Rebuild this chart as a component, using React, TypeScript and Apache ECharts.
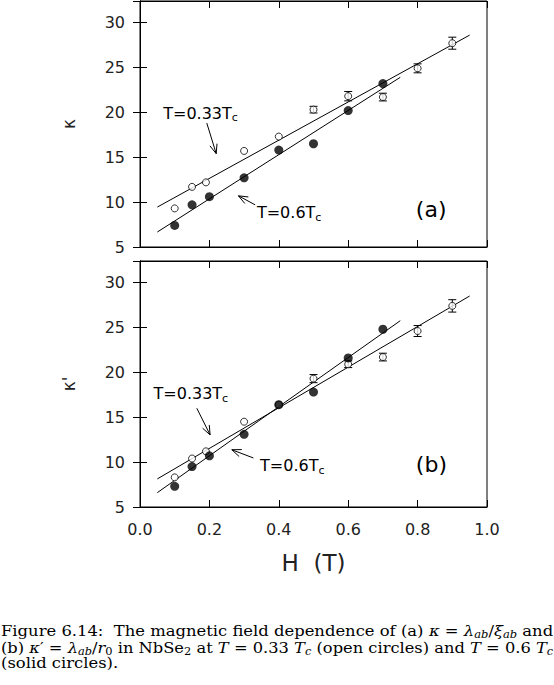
import { useEffect, useRef } from 'react'
import * as echarts from 'echarts'

// magnetic field H (T)
const fieldOpen = [0.1, 0.15, 0.19, 0.3, 0.4, 0.5, 0.6, 0.7, 0.8, 0.9]
const fieldSolid = [0.1, 0.15, 0.2, 0.3, 0.4, 0.5, 0.6, 0.7]
const fitFieldOpen = [0.05, 0.95]
const fitFieldSolid = [0.05, 0.75]

// (a) kappa
const kappaOpen = [9.3, 11.7, 12.2, 15.7, 17.3, 20.3, 21.8, 21.7, 24.9, 27.7]
const kappaOpenErr = [0, 0, 0, 0, 0, 0.37, 0.52, 0.43, 0.5, 0.67]
const kappaSolid = [7.4, 9.7, 10.6, 12.7, 15.8, 16.5, 20.2, 23.2]
const kappaOpenFit = [9.45, 28.6]
const kappaSolidFit = [6.67, 23.9]

// (b) kappa'
const kappaPOpen = [8.3, 10.4, 11.2, 14.5, 16.4, 19.3, 20.9, 21.7, 24.6, 27.4]
const kappaPOpenErr = [0, 0, 0, 0, 0, 0.45, 0.37, 0.43, 0.61, 0.69]
const kappaPSolid = [7.3, 9.5, 10.7, 13.1, 16.4, 17.8, 21.6, 24.8]
const kappaPOpenFit = [8.13, 28.5]
const kappaPSolidFit = [6.6, 25.75]

const xTickLabels = ['0.0', '0.2', '0.4', '0.6', '0.8', '1.0']
const yTickLabels = ['5', '10', '15', '20', '25', '30']

// annotation anchors, in data units: [x, y]
const labelsA = [
  { text: 'T=0.33T{s|c}', at: [0.067, 19.9] },
  { text: 'T=0.6T{s|c}', at: [0.337, 8.8] },
  { text: '{p|(a)}', at: [0.795, 9.15] },
]
const arrowsA = [
  [0.1925, 18.8, 0.2196, 15.4],
  [0.3317, 9.7, 0.2836, 10.7],
]
const labelsB = [
  { text: 'T=0.33T{s|c}', at: [0.039, 17.6] },
  { text: 'T=0.6T{s|c}', at: [0.346, 9.6] },
  { text: '{p|(b)}', at: [0.795, 9.7] },
]
const arrowsB = [
  [0.1637, 16.0, 0.202, 13.03],
  [0.3268, 10.46, 0.2646, 11.38],
]

const FONT = 'DejaVu Sans'
const SERIF = 'DejaVu Serif'
const CAP = 15

const pairs = (xs: number[], ys: number[]) => xs.map((x, i) => [x, ys[i]])
const withErr = (xs: number[], ys: number[], es: number[]) =>
  xs.map((x, i) => [x, ys[i], es[i]]).filter((d) => d[2] > 0)

// ax: index of the bottom x axis and of the left y axis of the panel (0 or 2)
function errorBars(ax: number, data: number[][]) {
  return {
    type: 'custom',
    xAxisIndex: ax,
    yAxisIndex: ax,
    data,
    z: 3,
    renderItem: (_p: any, api: any) => {
      const x = api.value(0), y = api.value(1), e = api.value(2)
      const t = api.coord([x, y + e])
      const b = api.coord([x, y - e])
      const w = 4
      const st = { stroke: '#000', lineWidth: 1 }
      return {
        type: 'group',
        children: [
          { type: 'line', shape: { x1: t[0], y1: t[1], x2: b[0], y2: b[1] }, style: st },
          { type: 'line', shape: { x1: t[0] - w, y1: t[1], x2: t[0] + w, y2: t[1] }, style: st },
          { type: 'line', shape: { x1: b[0] - w, y1: b[1], x2: b[0] + w, y2: b[1] }, style: st },
        ],
      }
    },
  }
}

function arrows(ax: number, data: number[][]) {
  return {
    type: 'custom',
    xAxisIndex: ax,
    yAxisIndex: ax,
    data,
    z: 2,
    renderItem: (_p: any, api: any) => {
      const p1 = api.coord([api.value(0), api.value(1)])
      const p2 = api.coord([api.value(2), api.value(3)])
      const ang = Math.atan2(p1[1] - p2[1], p1[0] - p2[0])
      const L = 10, da = 0.38
      const h1 = [p2[0] + L * Math.cos(ang + da), p2[1] + L * Math.sin(ang + da)]
      const h2 = [p2[0] + L * Math.cos(ang - da), p2[1] + L * Math.sin(ang - da)]
      const st = { stroke: '#000', lineWidth: 1, fill: null }
      return {
        type: 'group',
        children: [
          { type: 'line', shape: { x1: p1[0], y1: p1[1], x2: p2[0], y2: p2[1] }, style: st },
          { type: 'polyline', shape: { points: [h1, p2, h2] }, style: st },
        ],
      }
    },
  }
}

function labels(ax: number, items: { text: string; at: number[] }[]) {
  return {
    type: 'custom',
    xAxisIndex: ax,
    yAxisIndex: ax,
    data: items.map((d) => d.at),
    z: 4,
    renderItem: (p: any, api: any) => {
      const pt = api.coord([api.value(0), api.value(1)])
      return {
        type: 'text',
        x: pt[0],
        y: pt[1],
        style: {
          text: items[p.dataIndex].text,
          fontSize: 16,
          fontFamily: FONT,
          fill: '#000',
          align: 'left',
          verticalAlign: 'middle',
          rich: {
            s: { fontSize: 11, fontFamily: FONT, fill: '#000', padding: [9, 0, 0, 0] },
            p: { fontSize: 22, fontFamily: FONT, fill: '#000' },
          },
        },
      }
    },
  }
}

function xAxes(grid: number, showLabels: boolean) {
  const base = {
    gridIndex: grid,
    type: 'value',
    min: 0,
    max: 1,
    interval: 0.2,
    axisLine: { show: true, lineStyle: { color: '#000', width: 1 } },
    axisTick: { show: true, inside: true, length: 7, lineStyle: { color: '#000' } },
    splitLine: { show: false },
  }
  return [
    {
      ...base,
      position: 'bottom',
      axisLabel: {
        show: showLabels,
        margin: 14,
        fontSize: 16,
        fontFamily: FONT,
        color: '#222',
        formatter: (v: number) => xTickLabels[Math.round(v / 0.2)] ?? '',
      },
      name: showLabels ? 'H  (T)' : '',
      nameLocation: 'middle',
      nameGap: 44,
      nameTextStyle: { fontSize: 23, fontFamily: FONT, color: '#222' },
    },
    { ...base, position: 'top', axisLabel: { show: false } },
  ]
}

function yAxes(grid: number, name: string) {
  const base = {
    gridIndex: grid,
    type: 'value',
    min: 5,
    max: 32.4,
    interval: 5,
    axisLine: { show: true, lineStyle: { color: '#000', width: 1 } },
    axisTick: { show: true, inside: true, length: 7, lineStyle: { color: '#000' } },
    splitLine: { show: false },
  }
  return [
    {
      ...base,
      position: 'left',
      axisLabel: {
        margin: 15,
        fontSize: 16,
        fontFamily: FONT,
        color: '#222',
        formatter: (v: number) => (v % 5 === 0 ? yTickLabels[(v - 5) / 5] ?? '' : ''),
      },
      name,
      nameLocation: 'middle',
      nameGap: 63,
      nameRotate: 90,
      nameTextStyle: { fontSize: 17, fontFamily: FONT, color: '#222' },
    },
    { ...base, position: 'right', axisLabel: { show: false } },
  ]
}

function panelSeries(ax: number, open: number[], err: number[], solid: number[], fitO: number[], fitS: number[]) {
  const line = { color: '#000', width: 1 }
  return [
    errorBars(ax, withErr(fieldOpen, open, err)),
    {
      type: 'line', xAxisIndex: ax, yAxisIndex: ax, data: pairs(fitFieldOpen, fitO),
      showSymbol: false, symbol: 'none', lineStyle: line, z: 2,
    },
    {
      type: 'line', xAxisIndex: ax, yAxisIndex: ax, data: pairs(fitFieldSolid, fitS),
      showSymbol: false, symbol: 'none', lineStyle: line, z: 2,
    },
    {
      type: 'scatter', xAxisIndex: ax, yAxisIndex: ax, data: pairs(fieldOpen, open),
      symbol: 'circle', symbolSize: 7,
      itemStyle: { color: '#fff', borderColor: '#000', borderWidth: 1 }, z: 5,
    },
    {
      type: 'scatter', xAxisIndex: ax, yAxisIndex: ax, data: pairs(fieldSolid, solid),
      symbol: 'circle', symbolSize: 9, itemStyle: { color: '#000' }, z: 6,
    },
  ]
}

const capRich: Record<string, any> = {
  n: { fontSize: CAP, fontFamily: SERIF, fill: '#000' },
  i: { fontSize: CAP, fontFamily: SERIF, fontStyle: 'italic', fill: '#000' },
  si: { fontSize: 10.5, fontFamily: SERIF, fontStyle: 'italic', fill: '#000', padding: [7, 0, 0, 0] },
  s: { fontSize: 10.5, fontFamily: SERIF, fill: '#000', padding: [7, 0, 0, 0] },
}
const captionLines = [
  '{n|Figure 6.14:  The magnetic field dependence of (a) }{i|κ}{n| = }{i|λ}{si|ab}{n|/}{i|ξ}{si|ab}{n| and}',
  '{n|(b) }{i|κ}{n|′ = }{i|λ}{si|ab}{n|/}{i|r}{s|0}{n| in NbSe}{s|2}{n| at }{i|T}{n| = 0.33 }{i|T}{si|c}{n| (open circles) and }{i|T}{n| = 0.6 }{i|T}{si|c}',
  '{n|(solid circles).}',
]

// width of a rich caption line, to justify it across the page
function measureLine(line: string) {
  const ctx = document.createElement('canvas').getContext('2d')
  if (!ctx) return 0
  let w = 0
  line.replace(/\{(\w+)\|([^}]*)\}/g, (_m, k, t) => {
    const r = capRich[k]
    ctx.font = `${r.fontStyle ?? 'normal'} ${r.fontSize}px "${r.fontFamily}"`
    w += ctx.measureText(t).width
    return ''
  })
  return w
}

export default function App() {
  const ref = useRef<HTMLDivElement>(null)
  useEffect(() => {
    if (!ref.current) return
    const chart = echarts.init(ref.current, null, { renderer: 'svg' })
    const target = 552
    const scales = captionLines.map((l) => {
      const w = measureLine(l)
      return w > 0 ? target / w : 1
    })
    scales[2] = scales[0]
    chart.setOption({
      animation: false,
      backgroundColor: '#fff',
      grid: [
        { left: 140, top: 1, width: 347, height: 246, show: true, borderColor: '#000', borderWidth: 1 },
        { left: 140, top: 261, width: 347, height: 246, show: true, borderColor: '#000', borderWidth: 1 },
      ],
      xAxis: [...xAxes(0, false), ...xAxes(1, true)],
      yAxis: [...yAxes(0, 'κ'), ...yAxes(1, "κ'")],
      series: [
        ...panelSeries(0, kappaOpen, kappaOpenErr, kappaSolid, kappaOpenFit, kappaSolidFit),
        arrows(0, arrowsA),
        labels(0, labelsA),
        ...panelSeries(2, kappaPOpen, kappaPOpenErr, kappaPSolid, kappaPOpenFit, kappaPSolidFit),
        arrows(2, arrowsB),
        labels(2, labelsB),
      ],
      graphic: captionLines.map((t, i) => ({
        type: 'text',
        x: 1,
        y: 622 + i * 16.7,
        scaleX: scales[i],
        style: {
          text: t,
          fontSize: CAP,
          fontFamily: SERIF,
          fill: '#000',
          align: 'left',
          verticalAlign: 'top',
          rich: capRich,
        },
      })),
    })
    return () => chart.dispose()
  }, [])
  return (
    <div
      ref={ref}
      style={{ position: 'absolute', left: 0, top: 0, width: 554, height: 685 }}
    />
  )
}
